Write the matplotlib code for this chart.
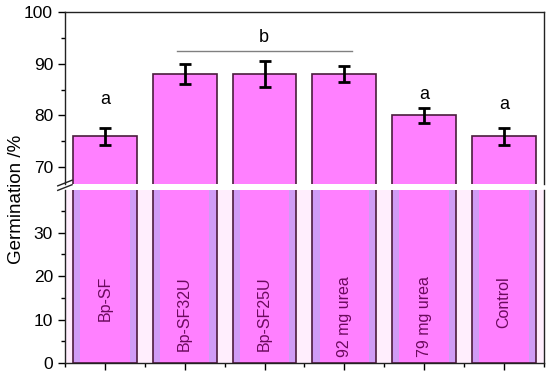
import matplotlib
matplotlib.use('Agg')
import matplotlib.pyplot as plt
import numpy as np
from matplotlib.ticker import FixedLocator

plt.rcParams['font.family'] = ['Liberation Sans', 'DejaVu Sans']
plt.rcParams['font.size'] = 12

labels = ['Bp-SF', 'Bp-SF32U', 'Bp-SF25U', '92 mg urea', '79 mg urea', 'Control']
means = [75.9, 88.0, 88.0, 88.0, 80.0, 75.9]
errs = [1.6, 2.0, 2.5, 1.5, 1.5, 1.6]
sig_a_idx = [0, 4, 5]
sig_a_y = [83.0, 84.0, 82.0]
sig_b_y = 95.1
sig_b_line_y = 92.4
sig_b_span = [0.9, 3.09]

magenta = '#ff80ff'
stripe = '#cf9cf6'
lower_bg = '#ffeefd'
edge = '#4a1c3c'
x = np.arange(len(labels))
width = 0.8
sw = 0.09

fig = plt.figure(figsize=(5.5, 3.77), dpi=100)
ax_top = fig.add_axes([0.118, 0.512, 0.871, 0.456])
ax_bot = fig.add_axes([0.118, 0.037, 0.871, 0.459])

# upper part
ax_top.bar(x, means, width, color=magenta, edgecolor=edge, linewidth=1.2, zorder=2)
ax_top.errorbar(x, means, yerr=errs, fmt='none', ecolor='black', elinewidth=2,
                capsize=4.5, capthick=2, zorder=3)
for i, yy in zip(sig_a_idx, sig_a_y):
    ax_top.text(x[i], yy, 'a', ha='center', va='center', fontsize=13)
ax_top.text(np.mean(sig_b_span), sig_b_y, 'b', ha='center', va='center', fontsize=13)
ax_top.plot(sig_b_span, [sig_b_line_y] * 2, color='#808080', lw=1)
ax_top.set_ylim(66.7, 100)
ax_top.set_xlim(-0.5, 5.5)
ax_top.yaxis.set_major_locator(FixedLocator([70, 80, 90, 100]))
ax_top.yaxis.set_minor_locator(FixedLocator([75, 85, 95]))
ax_top.set_xticks([])
ax_top.spines['bottom'].set_visible(False)

# lower part
ax_bot.set_facecolor(lower_bg)
ax_bot.bar(x, means, width, color=stripe, linewidth=0, zorder=2)
ax_bot.bar(x, means, width - 2 * sw, color=magenta, linewidth=0, zorder=2)
ax_bot.bar(x, means, width, fill=False, edgecolor=edge, linewidth=1.2, zorder=3)
for xi, lab in zip(x, labels):
    ax_bot.text(xi, 20, lab, rotation=90, ha='center', va='top',
                color='#6a0a5c', fontsize=11.5, zorder=4)
ax_bot.set_ylim(0, 39.8)
ax_bot.set_xlim(-0.5, 5.5)
ax_bot.yaxis.set_major_locator(FixedLocator([0, 10, 20, 30]))
ax_bot.yaxis.set_minor_locator(FixedLocator([5, 15, 25, 35]))
ax_bot.xaxis.set_major_locator(FixedLocator(x))
ax_bot.xaxis.set_minor_locator(FixedLocator(np.arange(-0.5, 6, 1)))
ax_bot.set_xticklabels([])
ax_bot.spines['top'].set_visible(False)

for ax in (ax_top, ax_bot):
    for s in ax.spines.values():
        s.set_color('#222222')
        s.set_linewidth(1)
    ax.tick_params(which='major', direction='out', length=5, width=1, labelsize=12.5)
    ax.tick_params(which='minor', direction='out', length=3, width=1)

# break marks
for dy in (0.0, 0.012):
    fig.add_artist(plt.Line2D([0.105, 0.131], [0.495 + dy, 0.510 + dy],
                              color='#222222', lw=1))

fig.text(0.03, 0.47, 'Germination /%', rotation=90, ha='center', va='center', fontsize=13.5)

plt.savefig('out.png', dpi=100)
